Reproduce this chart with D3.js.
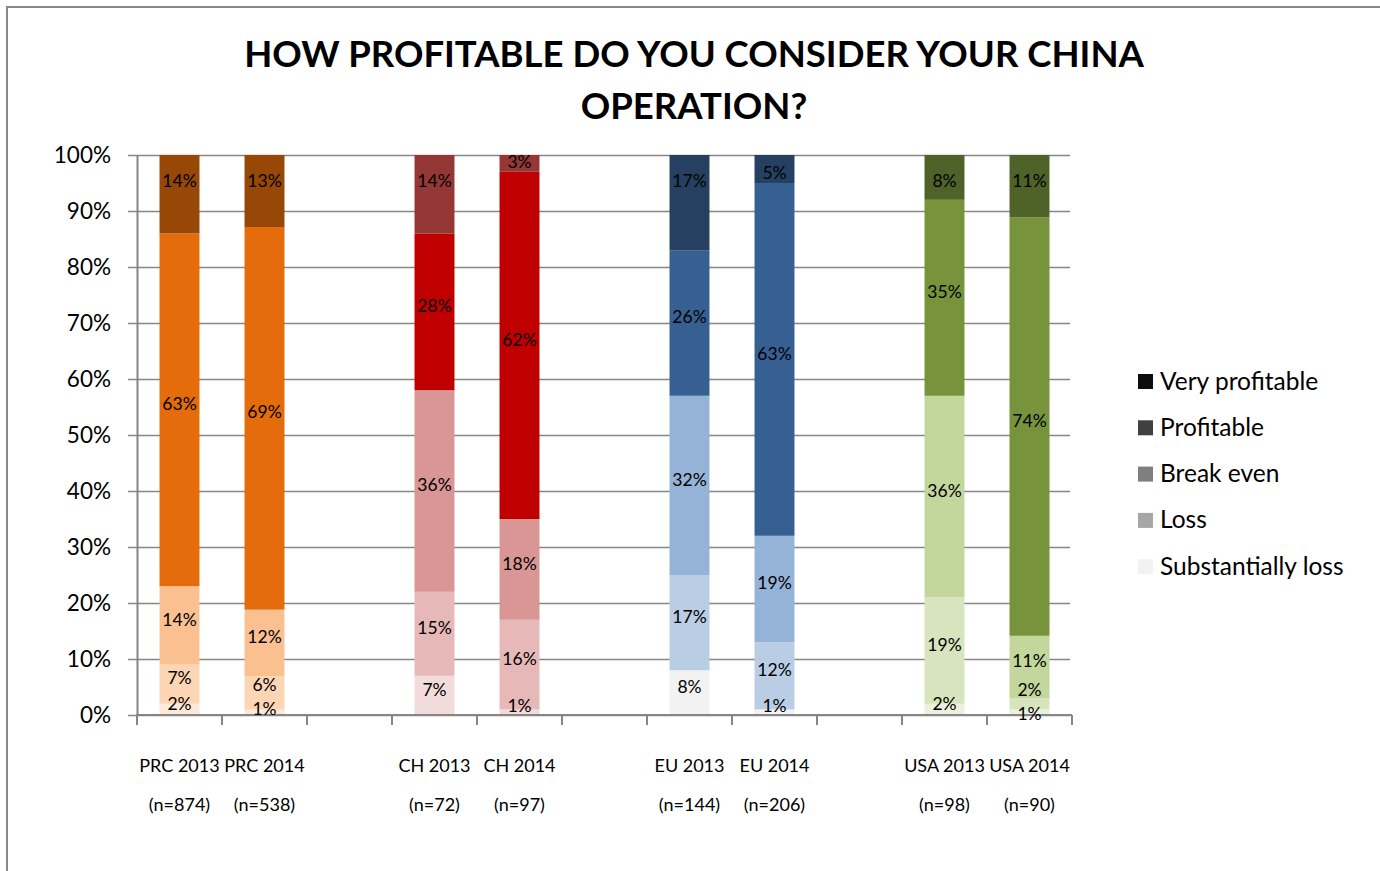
<!DOCTYPE html>
<html>
<head>
<meta charset="utf-8">
<script src="https://cdn.jsdelivr.net/npm/d3@7/dist/d3.min.js"></script>
<style>
  html, body { margin: 0; padding: 0; background: #fff; }
  svg { display: block; }
  text { font-family: Lato, "Open Sans", sans-serif; fill: #000; }
</style>
</head>
<body>
<svg id="chart" width="1380" height="871"></svg>
<script>
// Survey groups, in drawing order
const categories = ["PRC 2013", "PRC 2014", "CH 2013", "CH 2014", "EU 2013", "EU 2014", "USA 2013", "USA 2014"];
const sampleSizes = ["(n=874)", "(n=538)", "(n=72)", "(n=97)", "(n=144)", "(n=206)", "(n=98)", "(n=90)"];
const regions = ["PRC", "PRC", "CH", "CH", "EU", "EU", "USA", "USA"];

// Answer shares (%), bottom to top of each stack
const seriesNames = ["Substantially loss", "Loss", "Break even", "Profitable", "Very profitable"];
const substantiallyLoss = [2, 1, 7, 1, 8, 1, 2, 1];
const loss = [7, 6, 15, 16, 17, 12, 19, 2];
const breakEven = [14, 12, 36, 18, 32, 19, 36, 11];
const profitable = [63, 69, 28, 62, 26, 63, 35, 74];
const veryProfitable = [14, 13, 14, 3, 17, 5, 8, 11];

// Axis tick labels
const yTicks = [0, 10, 20, 30, 40, 50, 60, 70, 80, 90, 100];

// Slot layout: an empty slot separates each region pair
const slots = ["PRC 2013", "PRC 2014", "_gap1", "CH 2013", "CH 2014", "_gap2", "EU 2013", "EU 2014", "_gap3", "USA 2013", "USA 2014"];

// Shades per region, bottom to top
const palette = {
  PRC: ["#FDE9D9", "#FCD5B5", "#FAC090", "#E46C0A", "#974806"],
  CH:  ["#F2DCDB", "#E6B9B8", "#D99694", "#C00000", "#953735"],
  EU:  ["#F2F2F2", "#B9CDE5", "#95B3D7", "#376092", "#254061"],
  USA: ["#EBF1DE", "#D7E4BD", "#C3D69B", "#77933C", "#4F6228"]
};
const legendColors = ["#F2F2F2", "#A6A6A6", "#7F7F7F", "#404040", "#0D0D0D"];

const seriesValues = [substantiallyLoss, loss, breakEven, profitable, veryProfitable];

const svg = d3.select("#chart");
const axisColor = "#868686";

// Outer frame
svg.append("path")
  .attr("d", "M7,871 V7 H1380")
  .attr("fill", "none").attr("stroke", "#898989").attr("stroke-width", 2);

// Title
const title = svg.append("text")
  .attr("text-anchor", "middle")
  .attr("font-weight", "bold")
  .attr("font-size", 36.5);
title.append("tspan").attr("x", 694).attr("y", 67).text("HOW PROFITABLE DO YOU CONSIDER YOUR CHINA");
title.append("tspan").attr("x", 694).attr("y", 119).text("OPERATION?");

const plot = { left: 137, right: 1072, top: 155, bottom: 715 };

const x = d3.scaleBand()
  .domain(slots)
  .range([plot.left, plot.right])
  .paddingInner(0.53)
  .paddingOuter(0.265);

const y = d3.scaleLinear().domain([0, 100]).range([plot.bottom, plot.top]);

// Gridlines and y axis
const yAxis = d3.axisLeft(y)
  .tickValues(yTicks)
  .tickSize(-(plot.right - 2 - plot.left))
  .tickSizeOuter(0)
  .tickPadding(26)
  .tickFormat(d => d + "%");
const gy = svg.append("g").attr("transform", `translate(${plot.left},0)`).call(yAxis);
gy.select(".domain").attr("stroke", axisColor).attr("stroke-width", 2);
gy.selectAll(".tick line").attr("stroke", axisColor).attr("stroke-width", 1.5).attr("x1", -9);
gy.selectAll(".tick text")
  .attr("font-family", "Lato, sans-serif")
  .attr("font-size", 22.5)
  .attr("fill", "#000");

// Stacked, normalised to 100%
const rows = categories.map((c, i) => {
  const vals = seriesValues.map(s => s[i]);
  const total = d3.sum(vals);
  let acc = 0;
  const segs = vals.map((v, k) => {
    const y0 = acc / total * 100;
    acc += v;
    const y1 = acc / total * 100;
    return { cat: c, region: regions[i], k, value: v, y0, y1 };
  });
  return { cat: c, sample: sampleSizes[i], segs };
});

const bars = svg.append("g");
rows.forEach(r => {
  bars.selectAll(null)
    .data(r.segs)
    .join("rect")
    .attr("x", x(r.cat))
    .attr("width", x.bandwidth())
    .attr("y", d => y(d.y1))
    .attr("height", d => y(d.y0) - y(d.y1))
    .attr("fill", d => palette[d.region][d.k]);
});

// X axis line and slot-boundary ticks
const xAxisG = svg.append("g");
xAxisG.append("line")
  .attr("x1", plot.left - 1).attr("x2", plot.right)
  .attr("y1", plot.bottom).attr("y2", plot.bottom)
  .attr("stroke", axisColor).attr("stroke-width", 2);
const boundaries = slots.map(s => x(s) - x.step() * x.paddingInner() / 2).concat([plot.right]);
xAxisG.selectAll(null)
  .data(boundaries)
  .join("line")
  .attr("x1", d => d).attr("x2", d => d)
  .attr("y1", plot.bottom).attr("y2", plot.bottom + 10)
  .attr("stroke", axisColor).attr("stroke-width", 2);

// Category labels (two lines)
const catG = svg.append("g").attr("font-size", 18).attr("text-anchor", "middle");
rows.forEach(r => {
  const cx = x(r.cat) + x.bandwidth() / 2;
  catG.append("text").attr("x", cx).attr("y", 772).text(r.cat);
  catG.append("text").attr("x", cx).attr("y", 811).text(r.sample);
});

// Value labels: top segment pinned near the top edge, others centred,
// then nudged apart where segments are thin
const labelG = svg.append("g").attr("font-size", 17.5).attr("text-anchor", "middle");
const minGap = 24;
rows.forEach(r => {
  const cx = x(r.cat) + x.bandwidth() / 2;
  const last = r.segs.length - 1;
  const pos = r.segs.map((s, k) => ({
    s,
    cy: k === last
      ? Math.min(y(100) + 26, y(s.y0) - 10)
      : y((s.y0 + s.y1) / 2) - 6
  }));
  for (let iter = 0; iter < 20; iter++) {
    for (let k = 0; k < pos.length - 2; k++) {
      const a = pos[k], b = pos[k + 1];
      const gap = a.cy - b.cy;
      if (gap < minGap) {
        const push = (minGap - gap) / 2;
        a.cy += push; b.cy -= push;
      }
    }
  }
  pos.forEach(p => {
    labelG.append("text")
      .attr("x", cx)
      .attr("y", p.cy)
      .attr("dy", "0.35em")
      .text(p.s.value + "%");
  });
});

// Legend, top entry first
const legendOrder = d3.range(seriesNames.length).reverse();
const legend = svg.append("g");
legendOrder.forEach((k, i) => {
  const ly = 381 + i * 46.3;
  legend.append("rect")
    .attr("x", 1138).attr("y", ly - 7)
    .attr("width", 15).attr("height", 15)
    .attr("fill", legendColors[k]);
  legend.append("text")
    .attr("x", 1160).attr("y", ly)
    .attr("dy", "0.35em")
    .attr("font-size", 24.5)
    .text(seriesNames[k]);
});
</script>
</body>
</html>
